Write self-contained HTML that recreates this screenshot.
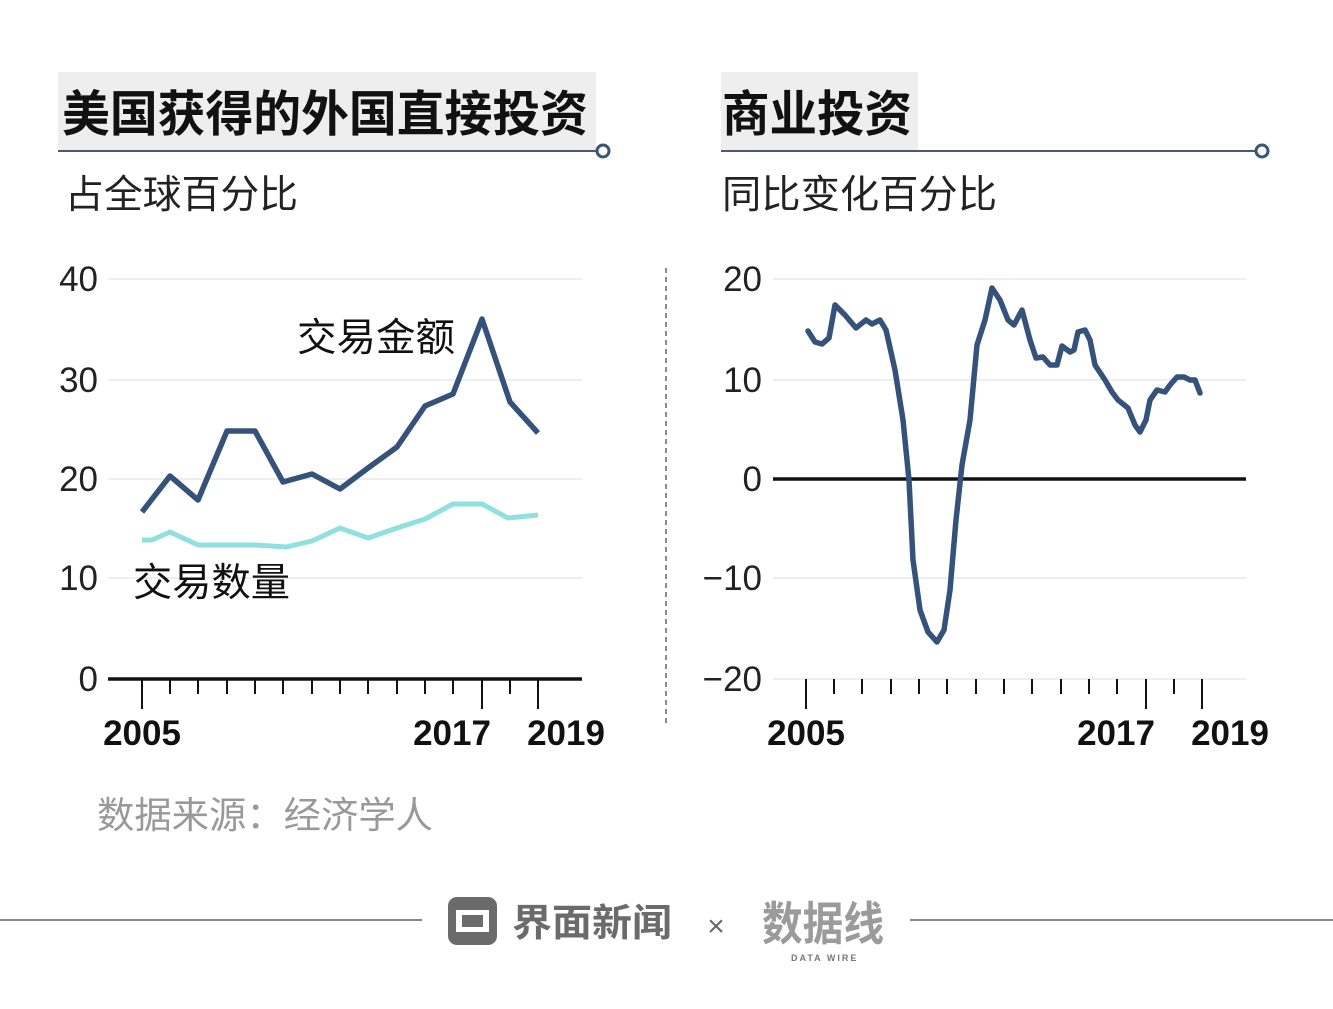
<!DOCTYPE html>
<html><head><meta charset="utf-8"><style>
body{margin:0;width:1333px;height:1009px;background:#fff;overflow:hidden}
svg{display:block}
text{font-family:"Liberation Sans","Noto Sans CJK SC",sans-serif}
</style></head><body>
<svg width="1333" height="1009" viewBox="0 0 1333 1009">
<rect x="58" y="72" width="538" height="78" fill="#eeeeee"/>
<text x="62" y="131" font-size="49" font-weight="bold" fill="#111" textLength="526" lengthAdjust="spacingAndGlyphs">美国获得的外国直接投资</text>
<line x1="58" y1="151" x2="596" y2="151" stroke="#4a5a70" stroke-width="2"/>
<circle cx="603" cy="151" r="6" fill="#fff" stroke="#3b5578" stroke-width="3"/>
<rect x="721" y="72" width="197" height="78" fill="#eeeeee"/>
<text x="722" y="131" font-size="49" font-weight="bold" fill="#111" textLength="190" lengthAdjust="spacingAndGlyphs">商业投资</text>
<line x1="721" y1="151" x2="1255" y2="151" stroke="#4a5a70" stroke-width="2"/>
<circle cx="1262" cy="151" r="6" fill="#fff" stroke="#3b5578" stroke-width="3"/>
<text x="65" y="208" font-size="39" fill="#222" textLength="233" lengthAdjust="spacingAndGlyphs">占全球百分比</text>
<text x="722" y="208" font-size="39" fill="#222" textLength="275" lengthAdjust="spacingAndGlyphs">同比变化百分比</text>
<line x1="666" y1="268" x2="666" y2="725" stroke="#666" stroke-width="1.5" stroke-dasharray="5,4"/>
<g stroke="#ddd" stroke-width="1">
<line x1="108" y1="279" x2="582" y2="279"/><line x1="108" y1="380" x2="582" y2="380"/>
<line x1="108" y1="479" x2="582" y2="479"/><line x1="108" y1="578" x2="582" y2="578"/>
<line x1="773" y1="279" x2="1246" y2="279"/><line x1="773" y1="380" x2="1246" y2="380"/>
<line x1="773" y1="578" x2="1246" y2="578"/><line x1="773" y1="679" x2="1246" y2="679"/>
</g>
<g font-size="35" fill="#222" text-anchor="end">
<text x="98" y="291">40</text><text x="98" y="392">30</text><text x="98" y="491">20</text><text x="98" y="590">10</text><text x="98" y="691">0</text>
<text x="762" y="291">20</text><text x="762" y="392">10</text><text x="762" y="491">0</text><text x="762" y="590">−10</text><text x="762" y="691">−20</text>
</g>
<line x1="108" y1="679" x2="582" y2="679" stroke="#111" stroke-width="3.5"/>
<line x1="773" y1="479" x2="1246" y2="479" stroke="#111" stroke-width="3.5"/>
<g stroke="#111" stroke-width="2">
<path d="M142 679v30M170 679v15M198 679v15M227 679v15M255 679v15M283 679v15M312 679v15M340 679v15M368 679v15M397 679v15M425 679v15M453 679v15M482 679v30M510 679v15M538 679v30"/>
<path d="M806 679v30M834 679v15M862 679v15M891 679v15M919 679v15M947 679v15M976 679v15M1004 679v15M1032 679v15M1061 679v15M1089 679v15M1117 679v15M1146 679v30M1174 679v15M1202 679v30"/>
</g>
<g font-size="35" font-weight="bold" fill="#111" text-anchor="middle">
<text x="142" y="745">2005</text><text x="452" y="745">2017</text><text x="566" y="745">2019</text>
<text x="806" y="745">2005</text><text x="1116" y="745">2017</text><text x="1230" y="745">2019</text>
</g>
<polyline fill="none" stroke="#8fe0de" stroke-width="5" stroke-linejoin="round" points="142,540 152,540 170,532 198,545 227,545 255,545 286,547 312,541 340,528 368,538 397,528 425,519 453,504 482,504 508,518 538,515"/>
<polyline fill="none" stroke="#34527a" stroke-width="5.5" stroke-linejoin="round" points="142,512 170,476 198,500 227,431 255,431 283,482 312,474 340,489 368,468 397,447 425,406 453,394 482,319 510,402 538,433"/>
<text x="297" y="351" font-size="39" fill="#111" textLength="158" lengthAdjust="spacingAndGlyphs">交易金额</text>
<text x="133" y="596" font-size="39" fill="#111" textLength="157" lengthAdjust="spacingAndGlyphs">交易数量</text>
<polyline fill="none" stroke="#34527a" stroke-width="5.5" stroke-linejoin="round" stroke-linecap="round" points="808,331 815,342 822,344 829,338 835,305 845,315 856,328 866,320 872,324 880,320 886,330 895,370 903,420 909,480 913,560 920,610 928,632 937,642 944,630 950,590 956,520 962,465 970,420 977,345 985,320 992,288 1000,300 1008,320 1014,325 1022,310 1030,340 1036,358 1043,357 1050,365 1057,365 1062,346 1070,352 1074,350 1078,332 1085,330 1090,340 1095,365 1105,380 1112,392 1118,400 1128,408 1135,425 1140,432 1146,420 1150,400 1157,390 1165,392 1170,385 1177,377 1184,377 1190,380 1195,380 1200,393"/>
<text x="97" y="828" font-size="37" fill="#999" textLength="336" lengthAdjust="spacingAndGlyphs">数据来源：经济学人</text>
<line x1="0" y1="920" x2="422" y2="920" stroke="#888" stroke-width="2"/>
<line x1="910" y1="920" x2="1333" y2="920" stroke="#888" stroke-width="2"/>
<rect x="448" y="897" width="49" height="48" rx="9" fill="#6b6b6b"/>
<path d="M456 910 L489 910 L489 932 L456 932 Z M462 915 L483 915 L483 927 L462 927 Z" fill="#fff" fill-rule="evenodd"/>
<text x="512" y="936" font-size="38" font-weight="bold" fill="#6b6b6b" textLength="160" lengthAdjust="spacingAndGlyphs">界面新闻</text>
<text x="716" y="936" font-size="30" fill="#6b6b6b" text-anchor="middle">×</text>
<text x="762" y="940" font-size="46" font-weight="bold" fill="#8a8a8a" opacity="0.85" textLength="122" lengthAdjust="spacingAndGlyphs">数据线</text>
<text x="791" y="961" font-size="9" font-weight="bold" fill="#777" letter-spacing="2">DATA WIRE</text>
</svg>
</body></html>
